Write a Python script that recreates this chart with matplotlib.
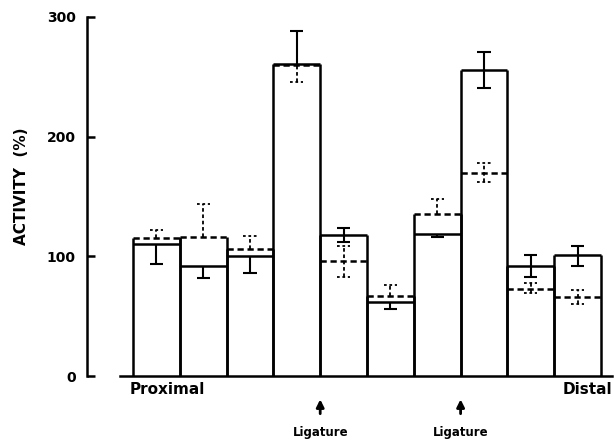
import numpy as np
import matplotlib
matplotlib.use("Agg")
import matplotlib.pyplot as plt

# segment activity, solid outline = one group, dashed line = other group
solid = [110, 92, 100, 261, 118, 62, 119, 256, 92, 101]
solid_lo = [16, 10, 14, 0, 6, 6, 3, 15, 9, 9]
solid_hi = [0, 0, 0, 27, 6, 0, 0, 15, 9, 8]

dashed = [115, 116, 106, 260, 96, 67, 135, 170, 73, 66]
dashed_lo = [0, 0, 0, 14, 13, 0, 0, 8, 4, 6]
dashed_hi = [7, 28, 11, 0, 13, 9, 13, 8, 5, 6]

yticks = [0, 100, 200, 300]
ligatures = [4, 7]  # bar boundaries where ligatures sit

plt.rcParams["font.family"] = ["DejaVu Sans"]
plt.rcParams["font.weight"] = "bold"

fig = plt.figure(figsize=(6.14, 4.42), dpi=100)
ax = fig.add_axes([87 / 614, 66 / 442, 525 / 614, 359 / 442])

n = len(solid)
left = np.arange(n)
top = np.maximum(solid, dashed)
lw = 1.8

# bar sides up to the higher of the two levels
ax.vlines(left, 0, top, color="black", lw=lw)
ax.vlines(left + 1, 0, top, color="black", lw=lw)
ax.hlines(solid, left, left + 1, color="black", lw=lw)
ax.hlines(dashed, left, left + 1, color="black", lw=lw, linestyles=(0, (2.5, 1.5)))

# error bars
cx = left + 0.5
cap = 0.14
s_lo = np.array(solid) - np.array(solid_lo)
s_hi = np.array(solid) + np.array(solid_hi)
ax.vlines(cx, s_lo, s_hi, color="black", lw=1.5)
for x, lo, hi, elo, ehi in zip(cx, s_lo, s_hi, solid_lo, solid_hi):
    if elo:
        ax.hlines(lo, x - cap, x + cap, color="black", lw=1.5)
    if ehi:
        ax.hlines(hi, x - cap, x + cap, color="black", lw=1.5)

d_lo = np.array(dashed) - np.array(dashed_lo)
d_hi = np.array(dashed) + np.array(dashed_hi)
ax.vlines(cx, d_lo, d_hi, color="black", lw=1.3, linestyles=(0, (2, 1.5)))
for x, lo, hi, elo, ehi in zip(cx, d_lo, d_hi, dashed_lo, dashed_hi):
    if elo:
        ax.hlines(lo, x - cap, x + cap, color="black", lw=1.3, linestyles=(0, (1.5, 1.5)))
    if ehi:
        ax.hlines(hi, x - cap, x + cap, color="black", lw=1.3, linestyles=(0, (1.5, 1.5)))

ax.set_xlim(-0.983, 10.235)
ax.set_ylim(0, 300)
ax.set_yticks(yticks)
ax.set_xticks([])
ax.tick_params(axis="y", direction="in", length=6, width=1.8, pad=8, labelsize=10)
for lab in ax.get_yticklabels():
    lab.set_fontweight("bold")

for s in ["top", "right"]:
    ax.spines[s].set_visible(False)
ax.spines["left"].set_linewidth(1.8)
ax.spines["left"].set_bounds(0, 300)
ax.spines["bottom"].set_linewidth(1.8)
ax.spines["bottom"].set_bounds(-0.28, 10.235)
ax.patch.set_visible(False)

tr = ax.get_xaxis_transform()
ax.text(-0.07, -0.038, "Proximal", transform=tr, ha="left", va="center",
        fontsize=11, fontweight="bold")
ax.text(10.23, -0.038, "Distal", transform=tr, ha="right", va="center",
        fontsize=11, fontweight="bold")
for lx in ligatures:
    ax.annotate("", xy=(lx, -0.065), xytext=(lx, -0.105), xycoords=tr, textcoords=tr,
                arrowprops=dict(arrowstyle="-|>", color="black", lw=2,
                                mutation_scale=11, shrinkA=0, shrinkB=0))
    ax.text(lx, -0.156, "Ligature", transform=tr, ha="center", va="center",
            fontsize=8.5, fontweight="bold")

fig.text(22 / 614, 1 - 186 / 442, "ACTIVITY  (%)", rotation=90, ha="center",
         va="center", fontsize=11, fontweight="bold")

fig.savefig("out.png", dpi=100)
